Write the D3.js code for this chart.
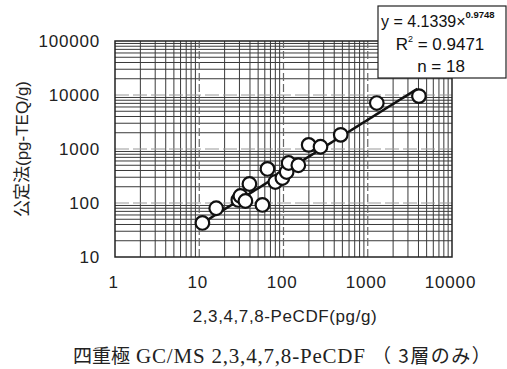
<!DOCTYPE html>
<html>
<head>
<meta charset="utf-8">
<script src="https://cdn.jsdelivr.net/npm/d3@7"></script>
<style>
  body { margin: 0; background: #fff; }
  svg { display: block; }
  .tick text { font-family: "Liberation Sans", Arial, sans-serif; }
</style>
</head>
<body>
<div id="chart"></div>
<script>
// PeCDF (x) vs official method TEQ (y)
const xValues = [10.9, 15.9, 29.1, 30.8, 35.3, 39.4, 56.2, 64.5, 80, 97, 109, 115, 150, 199, 275, 478, 1280, 4050];
const yValues = [42.7, 80, 114, 135, 109, 225, 92, 427, 245, 290, 375, 550, 500, 1190, 1100, 1830, 7100, 9550];
const xTicks = [1, 10, 100, 1000, 10000];
const yTicks = [10, 100, 1000, 10000, 100000];
const fitA = 4.1339, fitB = 0.9748;
const fitRange = [10.4, 3900];
const fitLabels = ["y = 4.1339×", "0.9748", "R", "2", " = 0.9471", "n = 18"];

const width = 507, height = 369;
const margin = { left: 115, right: 55, top: 41, bottom: 112 };

const svg = d3.select("#chart").append("svg")
  .attr("width", width).attr("height", height);

const x = d3.scaleLog().domain([1, 10000]).range([margin.left, width - margin.right]);
const y = d3.scaleLog().domain([10, 100000]).range([height - margin.bottom, margin.top]);

const gGrid = svg.append("g").attr("class", "grid");

// minor grid: 2..9 of each decade
const minorX = d3.range(0, 4).flatMap(e => d3.range(2, 10).map(m => m * 10 ** e));
const minorY = d3.range(1, 5).flatMap(e => d3.range(2, 10).map(m => m * 10 ** e));

gGrid.selectAll(".vx").data(minorX).join("line")
  .attr("x1", d => x(d)).attr("x2", d => x(d))
  .attr("y1", y.range()[0]).attr("y2", y.range()[1])
  .attr("stroke", "#3a3a3a").attr("stroke-width", 1);
gGrid.selectAll(".hy").data(minorY).join("line")
  .attr("y1", d => y(d)).attr("y2", d => y(d))
  .attr("x1", x.range()[0]).attr("x2", x.range()[1])
  .attr("stroke", "#3a3a3a").attr("stroke-width", 1);

// major decades dashed
gGrid.selectAll(".mx").data(xTicks.slice(1, -1)).join("line")
  .attr("x1", d => x(d)).attr("x2", d => x(d))
  .attr("y1", y.range()[0]).attr("y2", y.range()[1])
  .attr("stroke", "#666").attr("stroke-width", 1.2).attr("stroke-dasharray", "8,3");
gGrid.selectAll(".my").data(yTicks.slice(1, -1)).join("line")
  .attr("y1", d => y(d)).attr("y2", d => y(d))
  .attr("x1", x.range()[0]).attr("x2", x.range()[1])
  .attr("stroke", "#999").attr("stroke-width", 1.2).attr("stroke-dasharray", "14,4");

// frame
svg.append("rect")
  .attr("x", x.range()[0]).attr("y", y.range()[1])
  .attr("width", x.range()[1] - x.range()[0])
  .attr("height", y.range()[0] - y.range()[1])
  .attr("fill", "none").attr("stroke", "#222").attr("stroke-width", 1.5);

// axes
const xAxis = svg.append("g")
  .attr("transform", `translate(0,${y.range()[0]})`)
  .call(d3.axisBottom(x).tickValues(xTicks).tickFormat(d3.format("d")).tickSize(0).tickPadding(19));
const yAxis = svg.append("g")
  .attr("transform", `translate(${x.range()[0]},0)`)
  .call(d3.axisLeft(y).tickValues(yTicks).tickFormat(d3.format("d")).tickSize(0).tickPadding(15));
[xAxis, yAxis].forEach(g => {
  g.select(".domain").remove();
  g.selectAll("text").attr("font-size", 17).attr("letter-spacing", 0.8).attr("fill", "#222");
});
xAxis.selectAll("text").attr("dx", -2);

// fit line
const fitPts = d3.range(0, 101).map(i => {
  const lx = Math.log10(fitRange[0]) + (Math.log10(fitRange[1]) - Math.log10(fitRange[0])) * i / 100;
  const xv = 10 ** lx;
  return [xv, fitA * xv ** fitB];
});
svg.append("path")
  .datum(fitPts)
  .attr("d", d3.line().x(d => x(d[0])).y(d => y(d[1])))
  .attr("fill", "none").attr("stroke", "#111").attr("stroke-width", 2.5);

// points
svg.append("g").selectAll("circle")
  .data(xValues.map((v, i) => [v, yValues[i]]))
  .join("circle")
  .attr("cx", d => x(d[0])).attr("cy", d => y(d[1]))
  .attr("r", 6.8)
  .attr("fill", "#fff").attr("stroke", "#111").attr("stroke-width", 2.2);

// equation box
const box = svg.append("g");
box.append("rect")
  .attr("x", 378).attr("y", 6).attr("width", 128).attr("height", 72)
  .attr("fill", "#fff").attr("stroke", "#222").attr("stroke-width", 1.2);
const tf = "Liberation Sans, Arial, sans-serif";
const t1 = box.append("text").attr("x", 381).attr("y", 27)
  .attr("font-family", tf).attr("font-size", 16).attr("fill", "#111");
t1.append("tspan").text(fitLabels[0]);
t1.append("tspan").attr("dy", -9).attr("font-size", 9.5).attr("font-weight", "bold").text(fitLabels[1]);
const t2 = box.append("text").attr("x", 440).attr("y", 50).attr("text-anchor", "middle")
  .attr("font-family", tf).attr("font-size", 17).attr("fill", "#111");
t2.append("tspan").text(fitLabels[2]);
t2.append("tspan").attr("dy", -8).attr("font-size", 9).text(fitLabels[3]);
t2.append("tspan").attr("dy", 8).text(fitLabels[4]);
box.append("text").attr("x", 441).attr("y", 72).attr("text-anchor", "middle")
  .attr("font-family", tf).attr("font-size", 17).attr("fill", "#111").text(fitLabels[5]);

// titles
svg.append("text")
  .attr("transform", `translate(28,149) rotate(-90)`)
  .attr("text-anchor", "middle")
  .attr("font-family", "Liberation Sans, 'Noto Sans CJK JP', sans-serif")
  .attr("font-size", 17).attr("fill", "#222")
  .text("公定法(pg-TEQ/g)");
svg.append("text")
  .attr("x", 285).attr("y", 322).attr("text-anchor", "middle")
  .attr("font-family", "Liberation Sans, Arial, sans-serif")
  .attr("font-size", 17).attr("letter-spacing", 0.6).attr("fill", "#222")
  .text("2,3,4,7,8-PeCDF(pg/g)");
const cap = svg.append("text")
  .attr("x", 73).attr("y", 363)
  .attr("fill", "#222");
cap.append("tspan")
  .attr("font-family", "'Noto Sans CJK JP', serif").attr("font-size", 19)
  .text("四重極");
cap.append("tspan")
  .attr("font-family", "'Liberation Serif', serif").attr("font-size", 21)
  .attr("letter-spacing", 0.8)
  .text(" GC/MS 2,3,4,7,8-PeCDF ");
cap.append("tspan")
  .attr("font-family", "'Noto Sans CJK JP', serif").attr("font-size", 19)
  .attr("letter-spacing", 1.5)
  .text("（ 3層のみ）");
</script>
</body>
</html>
